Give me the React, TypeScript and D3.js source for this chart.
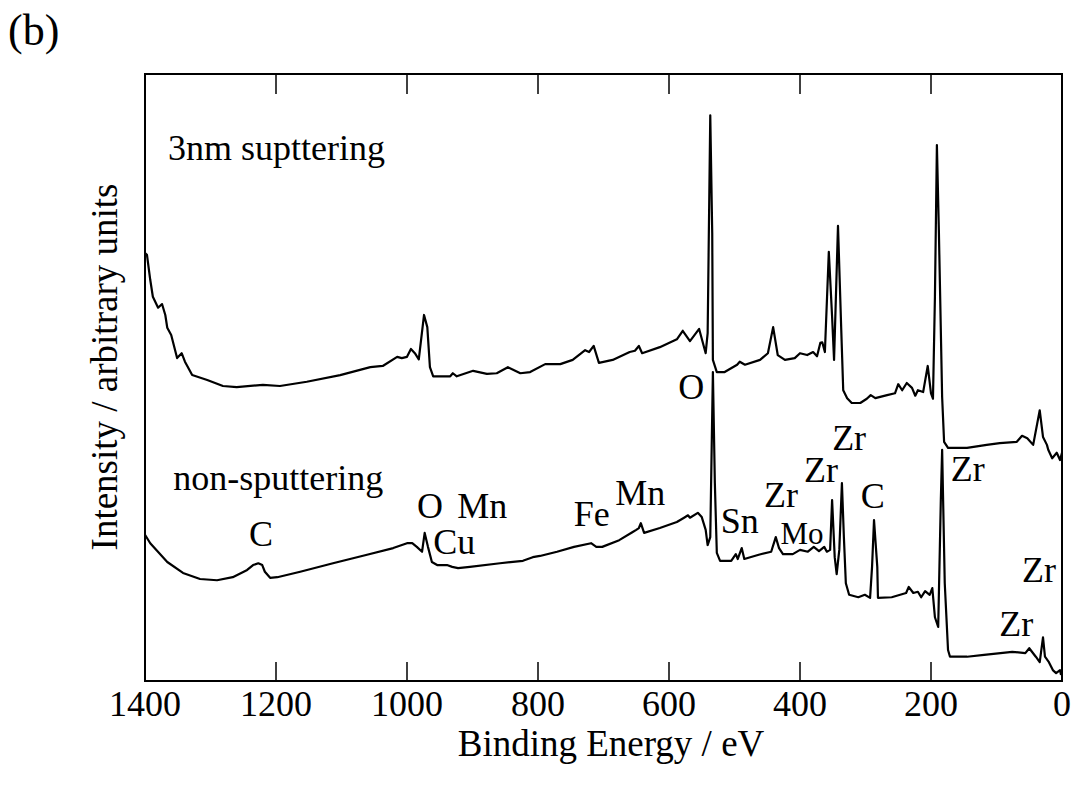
import React from "react";
import * as d3 from "d3";

// ---- data (binding energy in eV, intensity in arbitrary units) ----
const upperEnergy = [
  1400, 1397, 1392, 1388, 1380, 1374, 1369, 1366, 1360, 1351, 1344, 1339, 1328, 1305, 1281, 1260,
  1220, 1194, 1153, 1102, 1056, 1037, 1015, 1008, 1000, 994, 988, 982, 974, 969, 965, 960, 934,
  930, 924, 899, 878, 863, 846, 827, 812, 789, 766, 747, 728, 722, 715, 707, 686, 660, 652, 646,
  641, 614, 588, 579, 568, 554, 544, 541, 537, 534, 533, 527, 515, 496, 492, 484, 461, 449, 441,
  434, 423, 408, 400, 389, 380, 374, 369, 366, 362, 356, 351, 348, 342, 337, 334, 328, 321, 308,
  298, 292, 285, 267, 255, 250, 244, 237, 229, 224, 220, 212, 205, 200, 197, 194, 191, 188, 183,
  180, 174, 145, 115, 95, 69, 61, 53, 44, 34, 29, 23, 21, 15, 8, 3, 0,
];
const upperIntensity = [
  70.5, 70.2, 66.1, 63.3, 61.5, 62.1, 60.3, 58.2, 57.0, 53.2, 54.0, 52.6, 50.4, 49.6, 48.6, 48.4,
  48.8, 48.6, 49.3, 50.4, 51.7, 51.9, 53.4, 53.2, 53.4, 54.7, 54.0, 53.0, 60.3, 58.3, 51.7, 50.2, 50.2,
  50.7, 50.2, 51.1, 50.6, 50.7, 51.7, 50.7, 50.9, 52.2, 52.2, 52.9, 54.5, 54.2, 55.2, 52.4, 52.9, 54.2, 54.4, 55.2,
  54.0, 55.0, 56.3, 57.7, 56.0, 58.0, 54.0, 57.3, 93.2, 73.8, 52.9, 50.9, 50.9, 52.1, 52.6, 52.1, 52.9, 54.0, 58.3,
  53.7, 52.9, 53.2, 54.0, 53.7, 54.2, 53.5, 55.7, 55.8, 54.2, 70.7, 60.0, 52.9, 75.0, 57.8, 47.9, 46.6, 45.8, 45.8,
  46.5, 47.1, 46.6, 47.1, 47.4, 48.9, 47.9, 49.1, 48.3, 47.0, 47.9, 47.6, 51.9, 47.4, 46.5, 63.3, 88.3, 74.3, 46.8,
  39.4, 38.4, 38.4, 38.9, 39.2, 39.4, 40.4, 40.0, 38.9, 44.6, 40.2, 38.9, 38.1, 36.7, 37.6, 36.4, 37.6,
];

const lowerEnergy = [
  1400, 1392, 1366, 1342, 1316, 1290, 1266, 1244, 1235, 1227, 1221, 1217, 1209, 1198, 1163, 1113,
  1061, 1021, 1000, 992, 985, 977, 973, 968, 962, 954, 939, 931, 922, 904, 858, 823, 808, 797, 771,
  745, 719, 711, 702, 676, 656, 650, 646, 643, 638, 614, 588, 577, 571, 568, 556, 550, 544, 541, 537,
  533, 530, 527, 522, 505, 498, 495, 489, 485, 463, 444, 437, 432, 426, 411, 400, 388, 379, 371, 363,
  359, 354, 351, 347, 344, 340, 336, 333, 330, 325, 311, 301, 293, 290, 287, 282, 281, 260, 238, 234,
  227, 220, 215, 209, 202, 198, 194, 189, 185, 183, 179, 174, 171, 145, 119, 76, 56, 50, 40, 34, 29,
  26, 20, 14, 9, 3, 1.5,
];
const lowerIntensity = [
  24.1, 22.7, 19.6, 17.8, 16.8, 16.6, 17.1, 18.3, 19.1, 19.4, 19.1, 18.0, 17.0, 17.1, 18.0, 19.4,
  20.8, 21.9, 22.7, 22.7, 22.1, 21.3, 24.4, 22.1, 19.6, 19.1, 19.1, 18.8, 18.6, 18.8, 19.4, 19.8, 20.4, 20.6, 21.3,
  22.1, 22.7, 22.1, 22.1, 23.2, 24.5, 24.9, 25.2, 26.0, 24.4, 25.2, 26.2, 26.9, 27.3, 26.9, 27.7, 27.0, 24.9, 22.4, 23.7,
  50.9, 32.6, 21.1, 19.8, 19.8, 20.9, 20.1, 21.9, 20.1, 20.8, 21.3, 23.7, 21.9, 20.9, 20.9, 21.6, 21.3, 22.1, 21.4, 22.1,
  21.3, 21.6, 29.8, 20.4, 17.6, 21.6, 32.6, 23.7, 16.1, 14.2, 13.8, 14.2, 13.7, 18.8, 26.5, 18.8, 13.7, 13.8, 14.5, 15.5,
  14.5, 14.7, 13.8, 14.8, 14.2, 15.3, 10.5, 8.9, 29.8, 38.1, 16.1, 5.1, 4.0, 4.0, 4.3, 4.8, 4.6, 5.4, 4.0, 3.1, 7.2,
  4.0, 3.1, 1.8, 1.3, 1.8, 1.0,
];

const xTicks = [1400, 1200, 1000, 800, 600, 400, 200, 0];

// annotation labels: text, energy (eV) and intensity of anchor
const labelText = [
  "3nm supttering", "non-sputtering", "C", "O", "Mn", "Cu", "Fe", "Mn", "O", "Sn",
  "Zr", "Mo", "Zr", "Zr", "C", "Zr", "Zr", "Zr",
];
const labelEnergy = [1365, 1357, 1223, 965, 885, 928, 718, 644, 566, 492, 429, 397, 368, 325, 289, 144, 35, 70];
const labelIntensity = [85.8, 31.5, 22.2, 26.9, 26.9, 20.9, 25.5, 29.0, 46.5, 24.4, 28.7, 22.6, 32.8, 38.1, 28.5, 32.9, 16.3, 7.4];

const W = 1076;
const H = 794;
const left = 145;
const right = 1062;
const top = 74;
const bottom = 681;
const FONT = "Liberation Serif, 'Times New Roman', Times, DejaVu Serif, serif";
const txt: React.CSSProperties = { fontFamily: FONT };

export default function App() {
  const x = d3.scaleLinear().domain([1400, 0]).range([left, right]);
  const y = d3.scaleLinear().domain([0, 100]).range([bottom, top]);

  const upper = upperEnergy.map((e, i) => [e, upperIntensity[i]] as [number, number]);
  const lower = lowerEnergy.map((e, i) => [e, lowerIntensity[i]] as [number, number]);
  const line = d3
    .line<[number, number]>()
    .x((d) => x(d[0]))
    .y((d) => y(d[1]));

  return (
    <svg
      width={W}
      height={H}
      viewBox={`0 0 ${W} ${H}`}
      style={{ position: "absolute", left: 0, top: 0, background: "#fff", fontFamily: FONT }}
    >
      <rect x={0} y={0} width={W} height={H} fill="#fff" />
      <text x={8} y={45} fontSize={44} fill="#000" style={txt}>
        (b)
      </text>

      {/* curves */}
      <path d={line(upper) || ""} fill="none" stroke="#000" strokeWidth={2.2} strokeLinejoin="round" />
      <path d={line(lower) || ""} fill="none" stroke="#000" strokeWidth={2.2} strokeLinejoin="round" />

      {/* frame */}
      <rect x={left} y={top} width={right - left} height={bottom - top} fill="none" stroke="#000" strokeWidth={2} />

      {/* ticks */}
      {xTicks.map((t) => (
        <g key={t}>
          <line x1={x(t)} x2={x(t)} y1={top} y2={top + 20} stroke="#000" strokeWidth={1.5} />
          <line x1={x(t)} x2={x(t)} y1={bottom} y2={bottom - 19} stroke="#000" strokeWidth={1.5} />
          <text x={x(t)} y={716} fontSize={36} textAnchor="middle" fill="#000" style={txt}>
            {t}
          </text>
        </g>
      ))}

      <text x={611} y={756} fontSize={37} textAnchor="middle" fill="#000" style={txt}>
        Binding Energy / eV
      </text>
      <text
        transform={`translate(117, 367) rotate(-90)`}
        fontSize={37}
        textAnchor="middle"
        fill="#000"
        style={txt}
      >
        Intensity / arbitrary units
      </text>

      {labelText.map((t, i) => (
        <text
          key={i}
          x={x(labelEnergy[i])}
          y={y(labelIntensity[i])}
          fontSize={t === "Mo" ? 31 : 36}
          textAnchor={i < 2 ? "start" : "middle"}
          fill="#000"
          style={txt}
        >
          {t}
        </text>
      ))}
    </svg>
  );
}
